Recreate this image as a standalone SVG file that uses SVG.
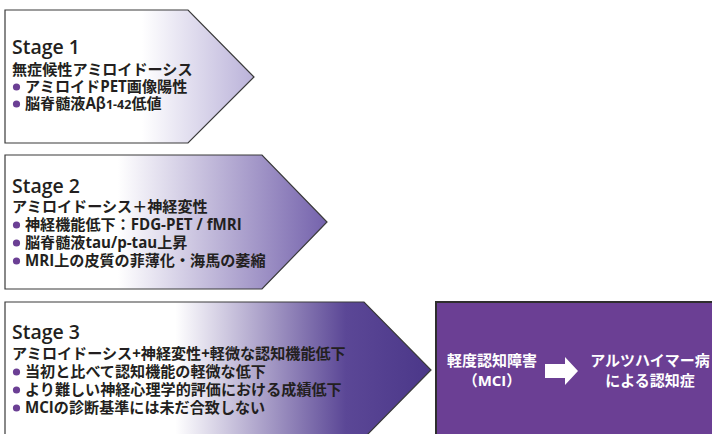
<svg xmlns="http://www.w3.org/2000/svg" width="712" height="434" viewBox="0 0 712 434">
<defs>
<linearGradient id="g1" x1="5" y1="0" x2="254" y2="0" gradientUnits="userSpaceOnUse">
<stop offset="0" stop-color="#ffffff"/><stop offset="0.55" stop-color="#ffffff"/><stop offset="1" stop-color="#bab2d9"/>
</linearGradient>
<linearGradient id="g2" x1="5" y1="0" x2="327" y2="0" gradientUnits="userSpaceOnUse">
<stop offset="0" stop-color="#ffffff"/><stop offset="0.35" stop-color="#ffffff"/><stop offset="1" stop-color="#7462ac"/>
</linearGradient>
<linearGradient id="g3" x1="5" y1="0" x2="431" y2="0" gradientUnits="userSpaceOnUse">
<stop offset="0" stop-color="#ffffff"/><stop offset="0.4" stop-color="#ffffff"/><stop offset="0.8" stop-color="#5b4796"/><stop offset="1" stop-color="#4b3789"/>
</linearGradient>
<style>
.shape{stroke:#3a3a3a;stroke-width:1.2}
.title{font-family:"Open Sans","Noto Sans CJK JP",sans-serif;font-weight:600;font-size:19.5px;fill:#231f20}
.t{font-family:"Noto Sans CJK JP",sans-serif;font-weight:700;font-size:15.1px;fill:#231f20}
.lat{font-family:"Open Sans","Noto Sans CJK JP",sans-serif}
.bul{fill:#6b3f94}
.w{font-family:"Noto Sans CJK JP",sans-serif;font-weight:700;font-size:15px;fill:#ffffff;text-anchor:middle}
</style>
</defs>
<g id="stage1">
<polygon class="shape" points="5,10 188,10 254,77 188,143 5,143" fill="url(#g1)"/>
<text class="title" x="12" y="54">Stage 1</text>
<text class="t" x="12" y="75">無症候性アミロイドーシス</text>
<circle class="bul" cx="16.5" cy="87" r="3.6"/>
<text class="t" x="25" y="92">アミロイド<tspan class="lat">PET</tspan>画像陽性</text>
<circle class="bul" cx="16.5" cy="104" r="3.6"/>
<text class="t" x="25" y="109">脳脊髄液<tspan class="lat">A</tspan>β<tspan class="lat" font-size="12.5">1-42</tspan>低値</text>
</g>
<g id="stage2">
<polygon class="shape" points="5,155 262,155 327,222 262,289 5,289" fill="url(#g2)"/>
<text class="title" x="12" y="193">Stage 2</text>
<text class="t" x="12" y="212">アミロイドーシス＋神経変性</text>
<circle class="bul" cx="16.5" cy="225" r="3.6"/>
<text class="t" x="25" y="230">神経機能低下：<tspan class="lat">FDG-PET / fMRI</tspan></text>
<circle class="bul" cx="16.5" cy="243" r="3.6"/>
<text class="t" x="25" y="248">脳脊髄液<tspan class="lat">tau/p-tau</tspan>上昇</text>
<circle class="bul" cx="16.5" cy="261" r="3.6"/>
<text class="t" x="25" y="266"><tspan class="lat">MRI</tspan>上の皮質の菲薄化・海馬の萎縮</text>
</g>
<g id="stage3">
<polygon class="shape" points="5,302 364,302 431,370 364,438 5,438" fill="url(#g3)"/>
<text class="title" x="12" y="339">Stage 3</text>
<text class="t" x="12" y="359">アミロイドーシス<tspan class="lat">+</tspan>神経変性<tspan class="lat">+</tspan>軽微な認知機能低下</text>
<circle class="bul" cx="16.5" cy="372" r="3.6"/>
<text class="t" x="25" y="377">当初と比べて認知機能の軽微な低下</text>
<circle class="bul" cx="16.5" cy="390" r="3.6"/>
<text class="t" x="25" y="395">より難しい神経心理学的評価における成績低下</text>
<circle class="bul" cx="16.5" cy="408" r="3.6"/>
<text class="t" x="25" y="413"><tspan class="lat">MCI</tspan>の診断基準には未だ合致しない</text>
</g>
<g id="outcome">
<rect x="436" y="302" width="290" height="150" fill="#6b3f94" stroke="#2e2e2e" stroke-width="2"/>
<text class="w" x="492" y="366">軽度認知障害</text>
<text class="w" x="492" y="386">（<tspan class="lat">MCI</tspan>）</text>
<text class="w" x="650" y="366">アルツハイマー病</text>
<text class="w" x="650" y="386">による認知症</text>
</g>
<g id="connectors">
<polygon points="545,364 565,364 565,357 578,371 565,385 565,378 545,378" fill="#ffffff"/>
</g>
</svg>
